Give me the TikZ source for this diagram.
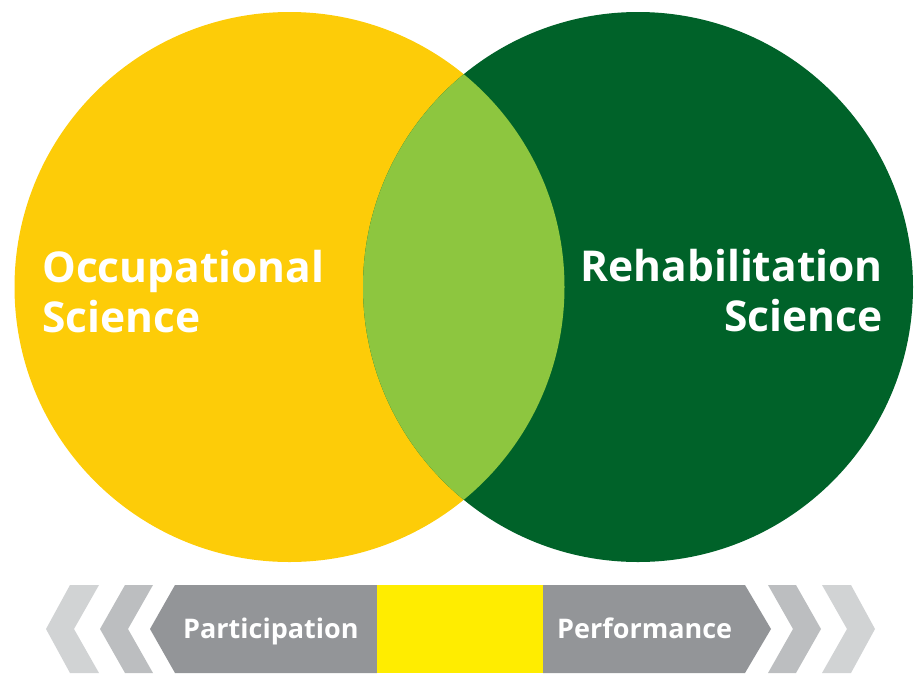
\documentclass[tikz,border=0pt]{standalone}
\usepackage{fontspec}
\setmainfont{Open Sans}
\definecolor{occyellow}{HTML}{FDCC08}
\definecolor{rehabgreen}{HTML}{006229}
\definecolor{lensgreen}{HTML}{8DC63F}
\definecolor{bargray}{HTML}{939598}
\definecolor{chevdark}{HTML}{BCBEC0}
\definecolor{chevlight}{HTML}{D1D3D4}
\definecolor{baryellow}{HTML}{FFED00}
\tikzset{
    bigtext/.style={text=white,font=\bfseries\fontsize{42.5}{50}\selectfont,inner sep=0pt},
    bartext/.style={text=white,font=\bfseries\fontsize{27}{30}\selectfont,inner sep=0pt}
}
\begin{document}
\begin{tikzpicture}[x=1pt,y=-1pt]
                \useasboundingbox (0,0) rectangle (919,673);
                % circles
                \fill[occyellow] (289.5,287) circle (275);
                \fill[rehabgreen] (638,287) circle (275);
                % overlap
                \begin{scope}
                    \clip (289.5,287) circle (275);
                    \fill[lensgreen] (638,287) circle (275);
                \end{scope}
                % labels
                \node[bigtext,anchor=base west,align=left] (occ) at (42,332) {Occupational\\Science};
                \node[bigtext,anchor=base east,align=right] (rehab) at (883,331) {Rehabilitation\\Science};
                % left chevrons
                \fill[chevlight] (70,585) -- (99,585) -- (74,629) -- (99,673) -- (70,673) -- (46,629) -- cycle;
                \fill[chevdark] (125,585) -- (153,585) -- (128,629) -- (153,673) -- (125,673) -- (100,629) -- cycle;
                % right chevrons
                \fill[chevdark] (768,585) -- (796,585) -- (821,629) -- (796,673) -- (768,673) -- (793,629) -- cycle;
                \fill[chevlight] (822,585) -- (851,585) -- (875,629) -- (851,673) -- (822,673) -- (847,629) -- cycle;
                % arrows
                \fill[bargray] (377,585) -- (175,585) -- (150,629) -- (175,673) -- (377,673) -- cycle;
                \fill[bargray] (543,585) -- (745,585) -- (771,629) -- (745,673) -- (543,673) -- cycle;
                \fill[baryellow] (377,585) rectangle (543,673);
                \node[bartext,anchor=base west] (part) at (183,638) {Participation};
                \node[bartext,anchor=base west] (perf) at (557,638) {Performance};
            \end{tikzpicture}
\end{document}
